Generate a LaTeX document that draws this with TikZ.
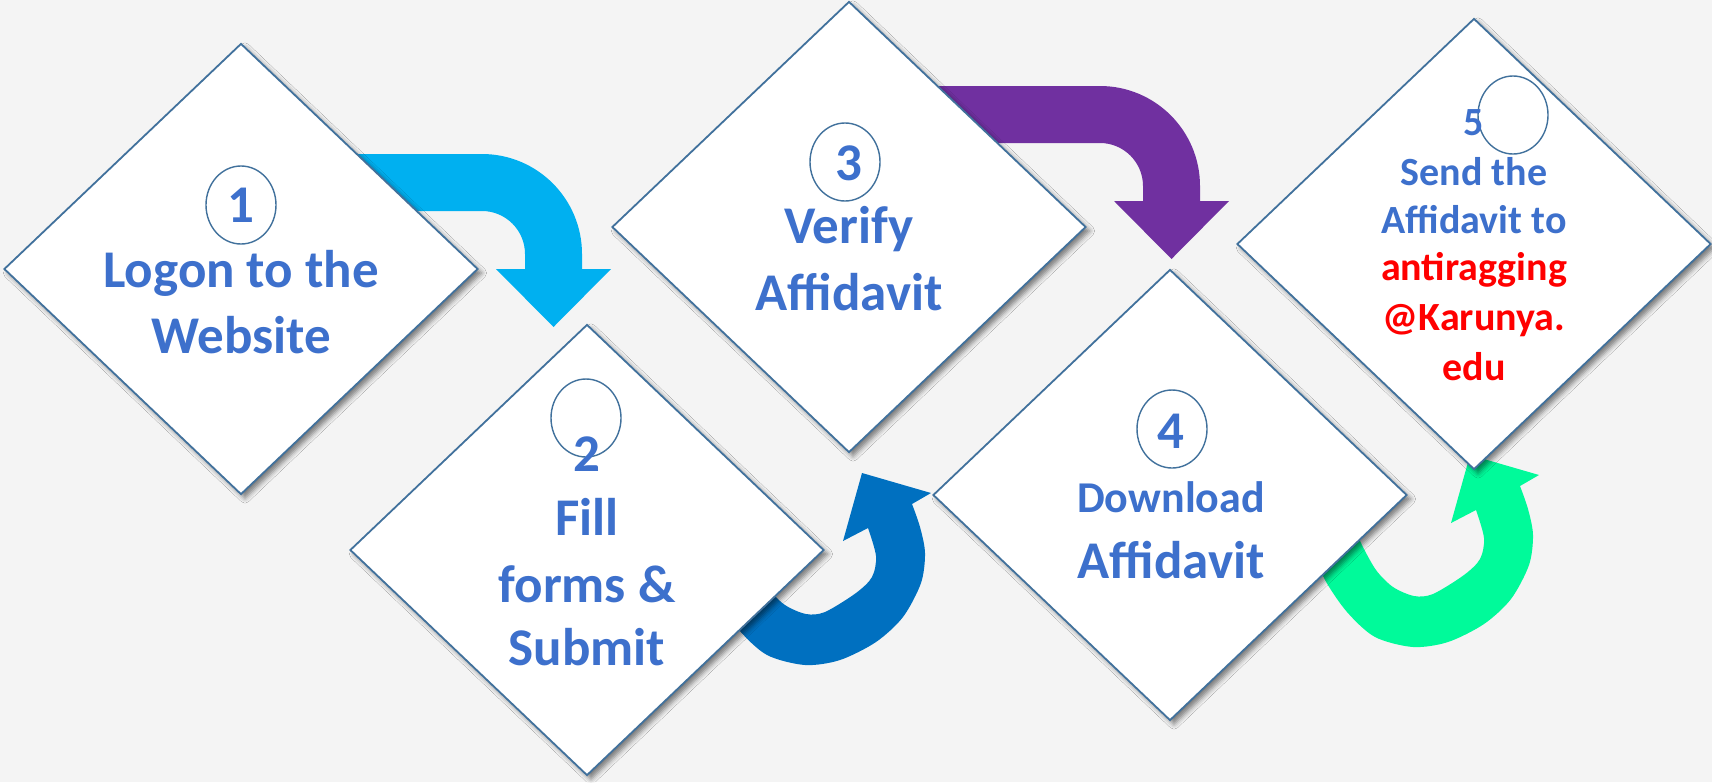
\documentclass[tikz,border=0pt]{standalone}
\usepackage{fontspec}
\setmainfont{Carlito}
\usetikzlibrary{shapes.geometric,shadows.blur}
\definecolor{bgc}{HTML}{F4F4F4}
\definecolor{edgec}{HTML}{41719C}
\definecolor{txtblue}{RGB}{61,112,204}
\definecolor{cyanA}{HTML}{00B0F0}
\definecolor{purpleA}{HTML}{7030A0}
\definecolor{blueA}{HTML}{0070C0}
\definecolor{greenA}{HTML}{00FA9A}
\definecolor{redA}{HTML}{FF0000}
\tikzset{
  bentarrow/.pic={
    \fill[pic actions] (300,154) -- (482,154) .. controls (537.2,154) and (582,198.8) .. (582,254)
      -- (582,269) -- (611,269) -- (553.5,327) -- (496,269) -- (525,269) -- (525,254)
      .. controls (525,230.3) and (505.7,211) .. (482,211) -- (300,211) -- cycle;
  },
  uturnarrow/.pic={
    \fill[pic actions] plot[smooth] coordinates {(705,568) (717,598) (739,630) (767,655) (805,665) (840,660) (876,642) (903,617) (921,583) (925,553) (920,527) (912,504)}
      -- (931,493) -- (862,473) -- (843,541)
      -- plot[smooth] coordinates {(868,528) (876,556) (872,577) (856,593) (825,612) (806,614) (785,605) (768,588) (753,561) (745,540)}
      -- cycle;
  }
}
\begin{document}
\begin{tikzpicture}[x=0.5pt,y=-0.5pt,
  stepbox/.style={diamond, draw=edgec, line width=0.9pt, fill=white,
    minimum width=237pt, minimum height=225.5pt, inner sep=0pt,
    blur shadow={shadow xshift=2pt, shadow yshift=-2pt, shadow blur radius=2.5pt, shadow opacity=50}},
  numring/.style={ellipse, draw=edgec, line width=0.7pt, minimum width=35pt, minimum height=39pt, inner sep=0pt},
  big/.style={font=\bfseries\fontsize{26.5}{32}\selectfont, text=txtblue, anchor=base, inner sep=0pt},
  mid/.style={font=\bfseries\fontsize{22}{27}\selectfont, text=txtblue, anchor=base, inner sep=0pt},
  small/.style={font=\bfseries\fontsize{20}{24}\selectfont, text=txtblue, anchor=base, inner sep=0pt},
  smallred/.style={small, text=redA}
]
\fill[bgc] (0,0) rectangle (1712,782);
\useasboundingbox (0,0) rectangle (1712,782);

% arrows (below the diamonds)
\pic[fill=cyanA] (arrA) at (0,0) {bentarrow};
\pic[fill=purpleA] (arrC) at (618,-68) {bentarrow};
\pic[fill=blueA] (arrB) at (0,0) {uturnarrow};
\pic[fill=greenA] (arrD) at (608,-18) {uturnarrow};

% diamonds
\node[stepbox] (d1) at (241,269) {};
\node[stepbox] (d2) at (587,550) {};
\node[stepbox] (d3) at (849,227) {};
\node[stepbox] (d4) at (1170,495) {};
\node[stepbox] (d5) at (1474,244) {};

% number rings
\node[numring] (c1) at (241,205) {};
\node[numring] (c2) at (586,418) {};
\node[numring] (c3) at (845,162) {};
\node[numring] (c4) at (1172,429) {};
\node[numring] (c5) at (1513,115) {};

% step 1
\node[big] (t1a) at (241,222) {1};
\node[big] (t1b) at (241,287) {Logon to the};
\node[big] (t1c) at (241,353) {Website};
% step 2
\node[big] (t2a) at (587,471) {2};
\node[big] (t2b) at (587,535) {Fill};
\node[big] (t2c) at (587,602) {forms \&};
\node[big] (t2d) at (587,665) {Submit};
% step 3
\node[big] (t3a) at (849,180) {3};
\node[big] (t3b) at (849,243) {Verify};
\node[big] (t3c) at (849,310) {Affidavit};
% step 4
\node[big] (t4a) at (1171,448) {4};
\node[mid] (t4b) at (1171,512) {Download};
\node[big] (t4c) at (1171,578) {Affidavit};
% step 5
\node[small] (t5a) at (1474,135) {5};
\node[small] (t5b) at (1474,185) {Send the};
\node[small] (t5c) at (1474,233) {Affidavit to};
\node[smallred] (t5d) at (1474,280) {antiragging};
\node[smallred] (t5e) at (1474,330) {@Karunya.};
\node[smallred] (t5f) at (1474,380) {edu};
\end{tikzpicture}
\end{document}
